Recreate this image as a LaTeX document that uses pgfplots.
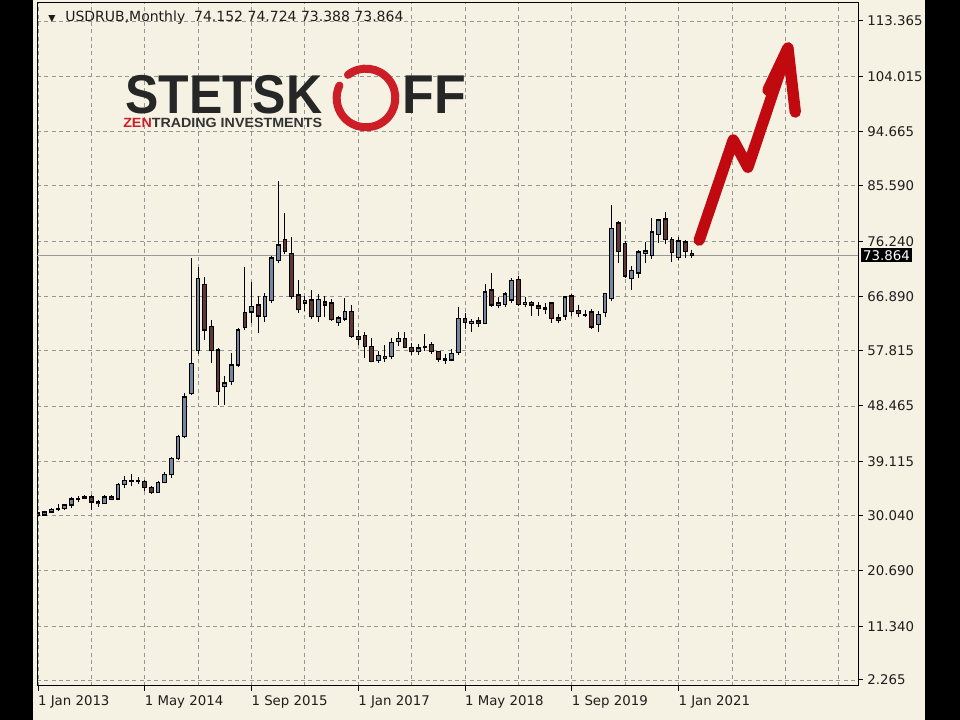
\documentclass[border=0pt]{standalone}
\usepackage{graphicx}
\usepackage{pgfplots}
\pgfplotsset{compat=1.18}
\usepackage{pgfplotstable}
\usepackage{fontspec}
\newfontfamily\dejavu{DejaVu Sans}
\newfontfamily\logofont{Liberation Sans}
\definecolor{bg}{RGB}{245,241,227}
\definecolor{gridcol}{RGB}{150,150,150}
\definecolor{bullc}{RGB}{118,134,160}
\definecolor{bearc}{RGB}{95,55,55}
\definecolor{arrowred}{RGB}{192,10,16}
\definecolor{logored}{RGB}{205,30,40}
\definecolor{labcol}{RGB}{30,30,30}

\pgfplotstableread{
m O H L C
0 30.40 30.60 29.90 30.10
1 30.10 30.70 29.95 30.55
2 30.55 31.20 30.40 31.00
3 31.00 31.90 30.80 31.20
4 31.20 32.00 30.90 31.80
5 31.80 33.10 31.30 32.80
6 32.80 33.20 32.20 32.90
7 32.90 33.40 32.70 33.10
8 33.10 33.40 30.90 32.30
9 32.30 32.60 31.50 32.00
10 32.00 33.40 31.90 33.10
11 33.10 33.50 32.60 32.80
12 32.80 35.50 32.70 35.20
13 35.20 36.60 34.60 35.90
14 35.90 37.00 35.00 35.80
15 35.80 36.50 35.30 35.70
16 35.70 35.90 34.10 34.70
17 34.70 35.00 33.60 33.90
18 33.90 35.80 33.80 35.60
19 35.60 37.30 35.40 36.90
20 36.90 39.90 36.40 39.60
21 39.60 43.60 39.40 43.30
22 43.30 50.60 43.00 50.00
23 50.60 73.40 50.30 55.60
24 57.80 71.90 57.30 69.90
25 68.90 70.20 59.60 61.30
26 61.90 63.00 55.70 57.80
27 57.90 58.20 48.60 50.90
28 51.70 53.50 48.60 52.30
29 52.60 57.40 52.00 55.40
30 55.40 61.60 55.00 61.30
31 64.20 71.90 61.20 61.70
32 64.30 69.40 62.50 65.20
33 65.50 67.00 60.80 63.60
34 63.50 67.50 62.60 66.90
35 66.20 73.80 65.80 73.40
36 73.00 86.30 72.50 75.60
37 76.50 81.00 74.00 74.50
38 74.20 77.00 66.50 66.90
39 67.20 69.70 64.20 64.70
40 65.80 67.00 64.50 66.20
41 66.30 68.00 63.20 63.50
42 63.50 67.40 62.60 66.40
43 66.00 67.00 63.50 65.50
44 65.80 66.50 62.70 63.00
45 62.50 63.60 62.00 63.30
46 63.10 66.60 62.70 64.40
47 64.40 65.50 60.00 60.20
48 60.20 61.20 58.80 59.70
49 60.30 61.00 56.50 58.50
50 58.50 59.90 55.80 56.00
51 56.10 57.80 55.70 57.00
52 56.50 58.80 55.80 56.80
53 56.80 60.00 56.30 59.20
54 59.30 61.00 58.50 59.80
55 59.80 61.00 58.20 58.30
56 58.30 59.00 57.00 57.60
57 57.60 58.90 57.00 58.20
58 58.30 60.60 57.80 58.50
59 58.80 59.30 57.20 57.60
60 57.60 57.80 55.80 56.40
61 56.40 57.20 55.60 56.20
62 56.20 58.00 56.00 57.30
63 57.50 65.20 57.00 63.20
64 63.20 64.20 61.50 62.50
65 62.40 63.20 61.00 62.70
66 62.80 63.50 61.80 62.40
67 62.40 69.00 62.20 67.70
68 68.00 70.80 65.20 65.50
69 65.50 66.80 64.90 65.80
70 65.60 67.60 65.10 67.30
71 66.30 70.00 65.80 69.60
72 69.80 70.30 65.30 65.60
73 65.60 66.90 65.10 65.90
74 65.90 66.20 63.60 65.50
75 65.30 66.00 63.70 64.90
76 64.80 65.80 64.00 65.00
77 65.80 65.90 62.50 63.20
78 63.30 64.00 62.40 62.90
79 63.60 67.00 63.00 66.80
80 67.00 67.30 63.60 64.40
81 64.60 65.50 63.40 64.00
82 63.80 64.60 63.40 63.70
83 64.30 64.80 61.50 61.80
84 62.20 64.40 61.00 63.90
85 64.20 67.50 63.40 67.40
86 66.60 82.40 66.20 78.40
87 79.30 79.60 72.60 74.50
88 75.80 76.30 70.00 70.40
89 69.90 72.00 68.00 71.30
90 70.90 74.80 70.10 74.40
91 74.20 76.10 72.50 74.60
92 73.80 80.10 73.20 77.80
93 77.40 80.00 75.90 79.80
94 80.00 81.20 75.70 76.50
95 76.50 77.00 72.80 74.30
96 73.50 77.00 73.00 76.30
97 76.10 76.50 73.40 74.50
98 74.152 74.724 73.388 73.864
}\data

\begin{document}
\begin{tikzpicture}
\path[use as bounding box] (0,0) rectangle (720pt,540pt);
\fill[black] (0,0) rectangle (720pt,540pt);
\fill[bg] (24.75pt,0) rectangle (693.75pt,540pt);
\begin{axis}[
  at={(27.75pt,25.5pt)}, anchor=south west,
  scale only axis, width=615.75pt, height=512.25pt,
  xmin=-0.15, xmax=122.9, ymin=1.254, ymax=116.39,
  axis background/.style={fill=bg},
  axis line style={draw=black, line width=0.75pt},
  xtick={0,16,32,48,64,80,96},
  minor xtick={8,24,40,56,72,88,104,112,120},
  xticklabels={1 Jan 2013,1 May 2014,1 Sep 2015,1 Jan 2017,1 May 2018,1 Sep 2019,1 Jan 2021},
  ytick={2.265,11.340,20.690,30.040,39.115,48.465,57.815,66.890,76.240,85.590,94.665,104.015,113.365},
  yticklabels={2.265,11.340,20.690,30.040,39.115,48.465,57.815,66.890,76.240,85.590,94.665,104.015,113.365},
  grid=both,
  major grid style={gridcol, dash pattern=on 3pt off 2.5pt, line width=0.6pt},
  minor grid style={gridcol, dash pattern=on 3pt off 2.5pt, line width=0.6pt},
  xtick pos=bottom, ytick pos=right, tick align=outside,
  major tick length=3.5pt, minor tick length=0pt,
  tick style={black, line width=0.75pt},
  /pgf/number format/assume math mode=true,
  ticklabel style={font=\dejavu\fontsize{10}{12}\selectfont, text=labcol},
  xticklabel style={anchor=north west, xshift=-3.5pt},
  yticklabel style={anchor=west},
]
\draw[gray!80, line width=0.75pt] (axis cs:-0.15,73.864) -- (axis cs:122.9,73.864);
% wicks
\addplot[draw=none, mark=none, forget plot,
  error bars/.cd, y dir=plus, y explicit, error mark=none,
  error bar style={draw=black, line width=0.75pt}]
  table[x=m, y expr=\thisrow{L}, y error plus expr={\thisrow{H}-\thisrow{L}}] {\data};
% bodies outline
\addplot[draw=none, mark=none, forget plot,
  error bars/.cd, y dir=plus, y explicit, error mark=none,
  error bar style={draw=black, line width=3.5pt}]
  table[x=m, y expr={min(\thisrow{O},\thisrow{C})-0.12}, y error plus expr={abs(\thisrow{C}-\thisrow{O})+0.24}] {\data};
% bull fill
\addplot[draw=none, mark=none, forget plot,
  restrict expr to domain={\thisrow{C}-\thisrow{O}}{0:1000},
  error bars/.cd, y dir=plus, y explicit, error mark=none,
  error bar style={draw=bullc, line width=2pt}]
  table[x=m, y expr={min(\thisrow{O},\thisrow{C})+0.12}, y error plus expr={max(abs(\thisrow{C}-\thisrow{O})-0.24,0)}] {\data};
% bear fill
\addplot[draw=none, mark=none, forget plot,
  restrict expr to domain={\thisrow{C}-\thisrow{O}}{-1000:-0.0001},
  error bars/.cd, y dir=plus, y explicit, error mark=none,
  error bar style={draw=bearc, line width=2pt}]
  table[x=m, y expr={min(\thisrow{O},\thisrow{C})+0.12}, y error plus expr={max(abs(\thisrow{C}-\thisrow{O})-0.24,0)}] {\data};
\coordinate (pl) at (axis cs:122.9,73.864);
% red arrow
\draw[arrowred, line width=8.5pt, line cap=round, line join=round]
  (axis cs:99.1,76.4) -- (axis cs:104.2,93.3) -- (axis cs:106.4,88.7) -- (axis cs:112.4,108.8);
\draw[arrowred, line width=8.5pt, line cap=round, line join=round]
  (axis cs:109.4,101.7) -- (axis cs:112.4,108.8) -- (axis cs:113.5,98.0);
\end{axis}
\node[fill=black, text=white, anchor=west, inner sep=1.5pt, font=\dejavu\fontsize{10}{12}\selectfont] at ([xshift=2.2pt]pl) {73.864};
% header
\node[anchor=base west, inner sep=0, text=labcol] at (36pt,523.5pt) {\dejavu\fontsize{7}{8}\selectfont ▼};
\node[anchor=base west, inner sep=0, text=labcol] at (48.75pt,523.5pt) {\dejavu\fontsize{10.5}{12}\selectfont USDRUB,Monthly\ \ 74.152 74.724 73.388 73.864};
% logo
\node[anchor=base west, inner sep=0, text=black!85] at (93.75pt,454.5pt) {\scalebox{0.914}[1]{\logofont\bfseries\fontsize{41}{43}\selectfont STETSK}};
\node[anchor=base west, inner sep=0, text=black!85] at (302pt,454.5pt) {\scalebox{0.95}[1]{\logofont\bfseries\fontsize{41}{43}\selectfont FF}};
\draw[logored, line width=6pt, line cap=round] (274.5pt,466.5pt) ++(128:22pt) arc[start angle=128, end angle=-205, radius=22pt];
\node[anchor=base west, inner sep=0] at (92.25pt,444.5pt) {\scalebox{1.07}[1]{\logofont\bfseries\fontsize{10}{11}\selectfont\textcolor{logored}{ZEN}\textcolor{black!80}{TRADING INVESTMENTS}}};
\end{tikzpicture}
\end{document}
